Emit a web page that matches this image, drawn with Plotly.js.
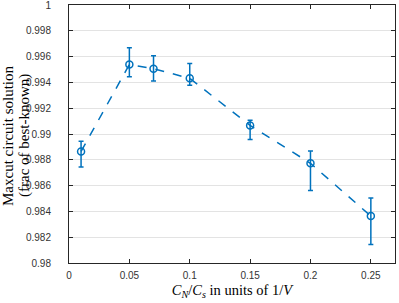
<!DOCTYPE html>
<html><head><meta charset="utf-8">
<script src="https://cdn.plot.ly/plotly-3.0.1.min.js"></script>
<style>html,body{margin:0;padding:0;background:#fff}</style>
</head><body><div id="chart" style="width:399px;height:303px"></div>
<script>
const xVals = [0.01, 0.05, 0.07, 0.1, 0.15, 0.2, 0.25];
const yVals = [0.98865, 0.99540, 0.99507, 0.99432, 0.99067, 0.98773, 0.98364];
const errPlus = [0.0008, 0.0013, 0.0010, 0.00116, 0.0004, 0.00095, 0.0014];
const errMinus = [0.0012, 0.00095, 0.00096, 0.00054, 0.0011, 0.0021, 0.0022];
const yTickVals = [0.98, 0.982, 0.984, 0.986, 0.988, 0.99, 0.992, 0.994, 0.996, 0.998, 1];
const yTickText = ['0.98', '0.982', '0.984', '0.986', '0.988', '0.99', '0.992', '0.994', '0.996', '0.998', '1'];
const xTickVals = [0, 0.05, 0.1, 0.15, 0.2, 0.25];
const xTickText = ['0', '0.05', '0.1', '0.15', '0.2', '0.25'];
const yTitleLines = ['Maxcut circuit solution', '(frac of best-known)'];
const xTitle = '<i>C<sub>N</sub></i>/<i>C<sub>s</sub></i> in units of 1/<i>V</i>';

const blue = '#0072BD';
const trace = {
  x: xVals, y: yVals, type: 'scatter', mode: 'lines+markers',
  line: {color: blue, width: 1.5, dash: 'dash'},
  marker: {symbol: 'circle-open', size: 7, color: blue, line: {width: 1.5, color: blue}},
  error_y: {type: 'data', symmetric: false, array: errPlus, arrayminus: errMinus,
            color: blue, thickness: 1.5, width: 2.5},
  showlegend: false
};
const tickFont = {family: 'Liberation Sans Narrow, Liberation Sans, Arial, sans-serif', size: 10, color: '#333'};
const serif = 'Liberation Serif, Times New Roman, serif';
const axisCommon = {
  showline: true, linecolor: '#262626', linewidth: 1, mirror: 'ticks',
  ticks: 'inside', ticklen: 4, tickcolor: '#262626', zeroline: false,
  tickfont: tickFont, ticklabeloverflow: 'allow'
};
const lineShifts = [-61, -45];
const layout = {
  width: 399, height: 303,
  margin: {l: 69, r: 4, t: 5, b: 40},
  paper_bgcolor: '#fff', plot_bgcolor: '#fff',
  xaxis: Object.assign({}, axisCommon, {
    range: [0, 0.27], tickvals: xTickVals, ticktext: xTickText, showgrid: false,
    ticklabelstandoff: 3,
    title: {text: xTitle, font: {family: serif, size: 14.5, color: '#000'}, standoff: 4}
  }),
  yaxis: Object.assign({}, axisCommon, {
    range: [0.98, 1.00001], tickvals: yTickVals, ticktext: yTickText,
    showgrid: true, gridcolor: '#e3e3e3', gridwidth: 1,
    ticklabelstandoff: 15
  }),
  annotations: yTitleLines.map((t, i) => ({
    text: t, font: {family: serif, size: 15, color: '#000'},
    textangle: -90, showarrow: false,
    xref: 'paper', yref: 'paper', x: 0, y: 0.5, xanchor: 'center', yanchor: 'middle',
    xshift: lineShifts[i], yshift: -2
  }))
};
Plotly.newPlot('chart', [trace], layout, {displayModeBar: false, staticPlot: true});
</script></body></html>
